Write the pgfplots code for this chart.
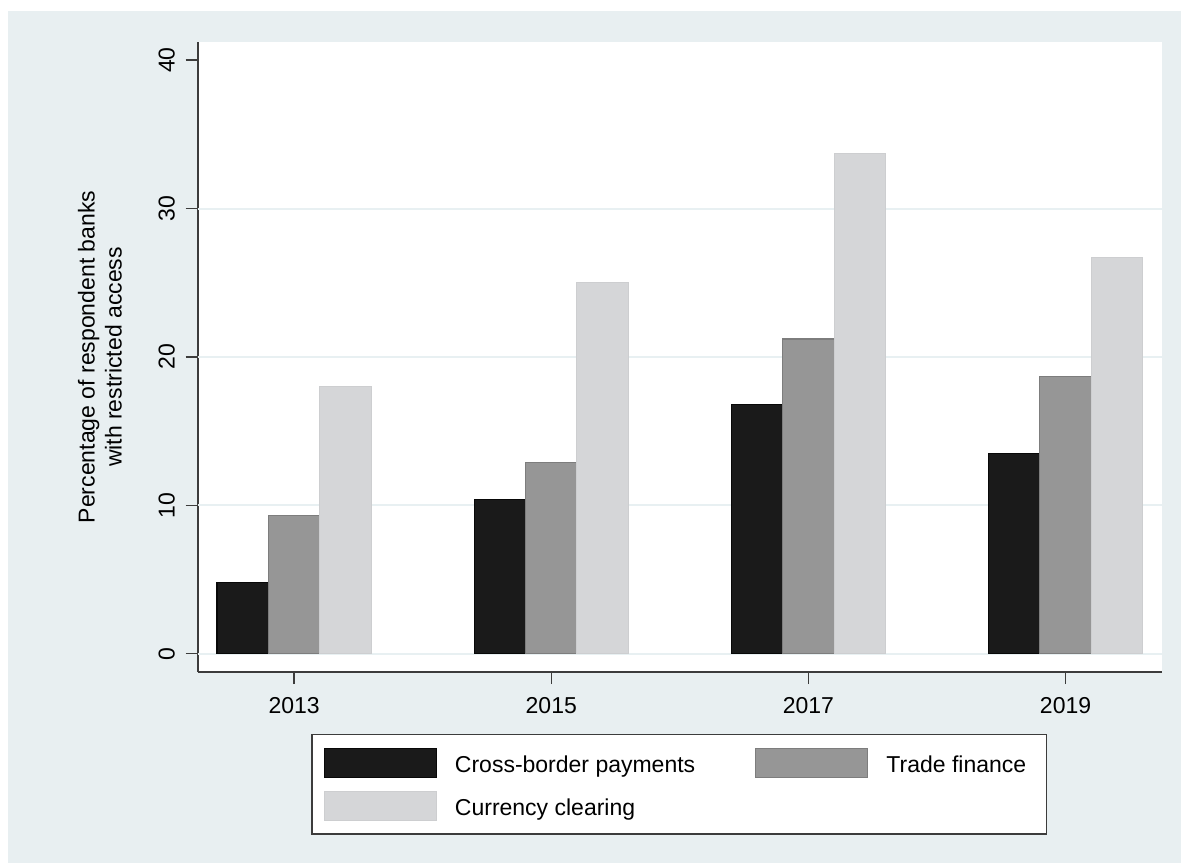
\documentclass[border=0pt]{standalone}
\usepackage{fontspec}
\setmainfont{Liberation Sans}
\usepackage{pgfplots}
\pgfplotsset{compat=1.18}
\definecolor{bgc}{RGB}{232,239,241}
\definecolor{gridc}{RGB}{232,240,242}
\definecolor{barA}{RGB}{26,26,26}
\definecolor{barAo}{RGB}{8,8,8}
\definecolor{barB}{RGB}{150,150,150}
\definecolor{barBo}{RGB}{125,125,125}
\definecolor{barC}{RGB}{213,214,216}
\definecolor{barCo}{RGB}{205,206,208}
\definecolor{axc}{RGB}{60,60,60}
\newcommand\fs{\fontsize{23}{27}\selectfont}
\begin{document}
\begin{tikzpicture}[x=1pt,y=1pt]
\fill[white] (0,0) rectangle (1181,863);
\fill[bgc] (8,0) rectangle (1181,852);
\begin{axis}[
  at={(197.7pt,191pt)}, anchor=south west,
  scale only axis, width=964.3pt, height=630pt,
  xmin=-0.375, xmax=3.375, ymin=-1.233, ymax=41.22,
  axis background/.style={fill=white},
  axis x line*=bottom, axis y line*=left,
  axis line style={draw=axc, line width=1.6pt, -},
  tick align=outside, major tick length=12pt,
  tick style={draw=axc, line width=1.4pt},
  xtick={0,1,2,3}, xticklabels={2013,2015,2017,2019},
  ytick={0,10,20,30,40},
  /pgf/number format/assume math mode=true,
  ticklabel style={font=\fs},
  xticklabel style={anchor=north, inner sep=0pt},
  yticklabel style={rotate=90, anchor=south, inner sep=0pt},
  xticklabel shift=13pt,
  yticklabel shift=10.7pt,
  extra y ticks={0,10,20,30}, extra y tick labels={},
  extra y tick style={grid=major, major tick length=0pt, major grid style={draw=gridc, line width=2pt}},
  ylabel={Percentage of respondent banks\\with restricted access},
  ylabel style={font=\fs, align=center, at={(axis description cs:-0.1013,0.5)}, anchor=center},
  ybar, bar width=0.2,
  legend columns=2,
  legend style={at={(axis description cs:0.1175,-0.0984)}, anchor=north west, draw=axc, line width=1.5pt, fill=white, inner xsep=12pt, inner ysep=13pt, column sep=18pt, row sep=12.9pt, /tikz/every even column/.append style={column sep=60pt}, nodes={inner sep=0pt, anchor=base west, font=\fs}},
  legend image code/.code={\draw[#1] (0pt,-4.8pt) rectangle (112pt,24.2pt);},
]
\addplot[fill=barA, draw=barAo, line width=1.2pt, bar shift=-0.2] coordinates {(0,4.8) (1,10.4) (2,16.8) (3,13.5)};
\addlegendentry{Cross-border payments}
\addplot[fill=barB, draw=barBo, line width=1.2pt, bar shift=0] coordinates {(0,9.3) (1,12.9) (2,21.2) (3,18.7)};
\addlegendentry{Trade finance\hspace*{8pt}}
\addplot[fill=barC, draw=barCo, line width=1.0pt, bar shift=0.2] coordinates {(0,18.0) (1,25.0) (2,33.7) (3,26.7)};
\addlegendentry{Currency clearing}
\end{axis}
\pgfresetboundingbox
\useasboundingbox (0,0) rectangle (1181,863);
\end{tikzpicture}
\end{document}
